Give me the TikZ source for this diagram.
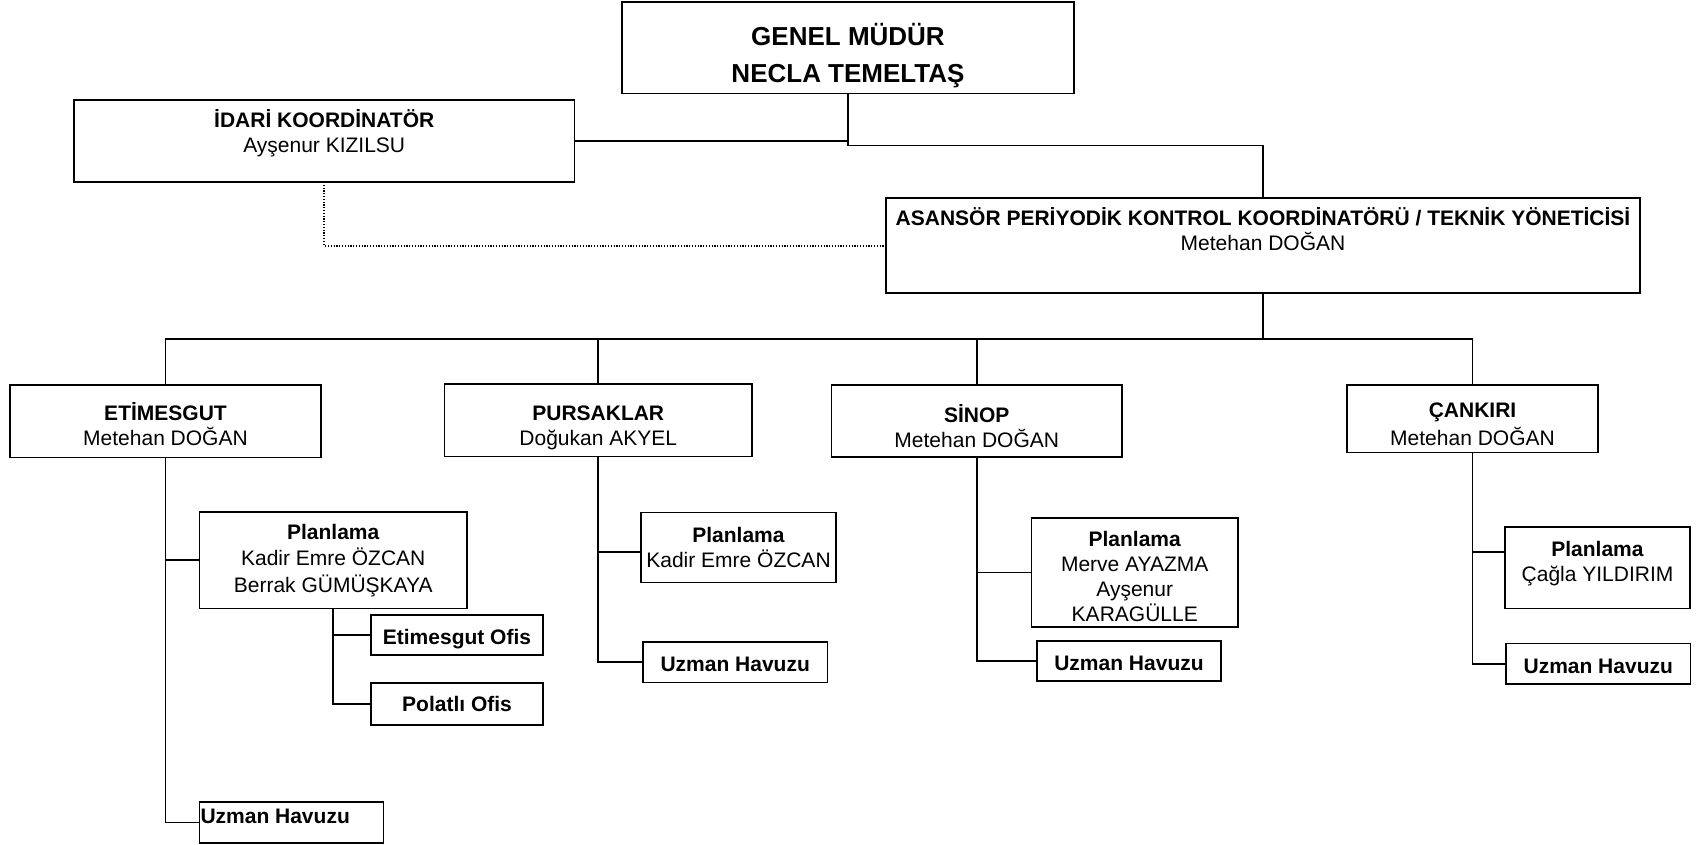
\documentclass[tikz,border=0pt]{standalone}
\usepackage{fontspec}
\setmainfont{Liberation Sans}
\tikzset{
  obx/.style={draw, line width=1.7pt, inner sep=0pt, outer sep=0pt},
  conn/.style={line width=1.7pt},
  dotconn/.style={line width=2pt, dash pattern=on 1.2pt off 1.6pt},
}
\newcommand{\nt}{\fontsize{21}{25}\selectfont}
\newcommand{\obox}[7]{%
  \pgfmathsetmacro{\bw}{#4-#2}%
  \pgfmathsetmacro{\bh}{#5-#3}%
  \pgfmathsetmacro{\dt}{max(2*(#6),0)}%
  \pgfmathsetmacro{\db}{max(-2*(#6),0)}%
  \node[obx, anchor=north west] (#1) at (#2,#3)
    {\parbox[c][\bh pt][c]{\bw pt}{\nt\centering\vspace*{\dt pt}#7\par\vspace*{\db pt}}};}
\begin{document}
\begin{tikzpicture}[x=1pt,y=-1pt]
\fill[white] (0,0) rectangle (1699,845);
\useasboundingbox (0,0) rectangle (1699,845);

\obox{gm}{622}{2}{1074}{93.5}{8}{\fontsize{26}{37}\selectfont\textbf{GENEL MÜDÜR}\\\textbf{NECLA TEMELTAŞ}}
\obox{idari}{74}{100}{574.5}{182}{-8}{\textbf{İDARİ KOORDİNATÖR}\\Ayşenur KIZILSU}
\obox{apk}{886}{198}{1640}{293}{-16}{\textbf{ASANSÖR PERİYODİK KONTROL KOORDİNATÖRÜ / TEKNİK YÖNETİCİSİ}\\Metehan DOĞAN}

\obox{etim}{10}{385}{321}{457.5}{3}{\textbf{ETİMESGUT}\\Metehan DOĞAN}
\obox{purs}{444.5}{384}{752}{456.5}{8}{\textbf{PURSAKLAR}\\Doğukan AKYEL}
\obox{sinop}{831.5}{385}{1122}{457}{5}{\textbf{SİNOP}\\Metehan DOĞAN}
\obox{cank}{1347}{385}{1598}{452.5}{6}{\fontsize{21}{28}\selectfont\textbf{ÇANKIRI}\\Metehan DOĞAN}

\obox{etplan}{199.5}{512}{467}{608.5}{0}{\fontsize{21}{26.5}\selectfont\textbf{Planlama}\\Kadir Emre ÖZCAN\\Berrak GÜMÜŞKAYA}
\obox{etofis}{371}{615}{543}{655}{4}{\textbf{Etimesgut Ofis}}
\obox{polofis}{371}{683}{543}{725}{0}{\textbf{Polatlı Ofis}}
\obox{etuz}{199.5}{802}{383.5}{843}{-6}{\raggedright\hspace*{1pt}\textbf{Uzman Havuzu}}

\obox{pplan}{641}{512.5}{836}{582.5}{0}{\textbf{Planlama}\\Kadir Emre ÖZCAN}
\obox{puz}{643}{642}{827.5}{682.5}{2}{\textbf{Uzman Havuzu}}

\obox{splan}{1031.5}{518}{1238}{627}{4}{\textbf{Planlama}\\Merve AYAZMA\\Ayşenur\\KARAGÜLLE}
\obox{suz}{1037}{641}{1221}{681}{2}{\textbf{Uzman Havuzu}}

\obox{cplan}{1505}{527}{1690}{608.5}{-4}{\textbf{Planlama}\\Çağla YILDIRIM}
\obox{cuz}{1506}{643.5}{1690.5}{684}{3}{\textbf{Uzman Havuzu}}

% top connectors
\draw[conn] (gm.south) -- ++(0,52) -| (apk.north);
\draw[conn] (idari.east) -- (idari.east -| gm.south);
\draw[dotconn] (idari.south) |- (apk.west);

% bus
\coordinate (bus) at (0,339);
\draw[conn] (apk.south) -- (apk.south |- bus);
\draw[conn] (etim.north) -- (etim.north |- bus) -- (cank.north |- bus) -- (cank.north);
\draw[conn] (purs.north) -- (purs.north |- bus);
\draw[conn] (sinop.north) -- (sinop.north |- bus);

% Etimesgut
\draw[conn] (etim.south) |- (etuz.west);
\draw[conn] (etplan.west) -- (etplan.west -| etim.south);
\draw[conn] (etplan.south) |- (polofis.west);
\draw[conn] (etofis.west) -- (etofis.west -| etplan.south);

% Pursaklar
\draw[conn] (purs.south) |- (puz.west);
\coordinate (ppj) at ([yshift=-4.5pt]pplan.west);
\draw[conn] (ppj) -- (ppj -| purs.south);

% Sinop
\draw[conn] (sinop.south) |- (suz.west);
\draw[conn] (splan.west) -- (splan.west -| sinop.south);

% Cankiri
\draw[conn] (cank.south) |- (cuz.west);
\coordinate (cpj) at ([yshift=15.5pt]cplan.west);
\draw[conn] (cpj) -- (cpj -| cank.south);
\end{tikzpicture}
\end{document}
